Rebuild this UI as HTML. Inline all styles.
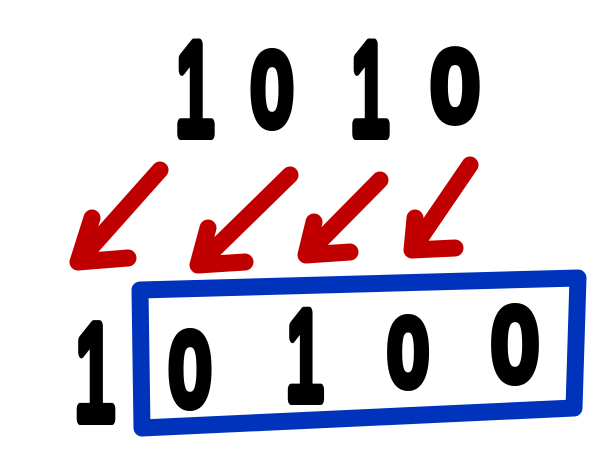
<!DOCTYPE html>
<html><head><meta charset="utf-8"><style>
html,body{margin:0;padding:0;background:#fff;width:607px;height:455px;overflow:hidden}
svg{display:block}
text{font-family:"Liberation Sans",sans-serif;font-weight:normal;fill:#000;stroke:#000;stroke-width:12;stroke-linejoin:round;text-anchor:middle}
</style></head><body>
<svg width="607" height="455" viewBox="0 0 607 455">
  <g>
    <text transform="translate(195,134) scale(0.55,1)" font-size="130">1</text>
    <text transform="translate(272,124) scale(0.72,1)" font-size="100">0</text>
    <text transform="translate(370,134) scale(0.55,1)" font-size="130">1</text>
    <text transform="translate(455,119) scale(0.85,1)" font-size="96">0</text>
  </g>
  <g stroke="#c00000" stroke-width="17" stroke-linecap="round" stroke-linejoin="round" fill="none">
    <path d="M160 170 L78 262 M78 262 L92 218 M78 262 L128 258"/>
    <path d="M290 175 L198 265 M198 265 L208 228 M198 265 L245 262"/>
    <path d="M380 180 L306 255 M306 255 L314 222 M306 255 L350 252"/>
    <path d="M470 165 L412 250 M412 250 L415 218 M412 250 L455 248"/>
  </g>
  <g>
    <text transform="translate(95,419) scale(0.55,1)" font-size="135">1</text>
    <text transform="translate(190,404) scale(0.72,1)" font-size="100">0</text>
    <text transform="translate(305,399) scale(0.55,1)" font-size="125">1</text>
    <text transform="translate(408,384) scale(0.75,1)" font-size="92">0</text>
    <text transform="translate(515,379) scale(0.8,1)" font-size="100">0</text>
  </g>
  <path d="M140 290 L578 278 L574 408 L142 428 Z" fill="none" stroke="#0033bb" stroke-width="17" stroke-linejoin="round"/>
</svg>
</body></html>
